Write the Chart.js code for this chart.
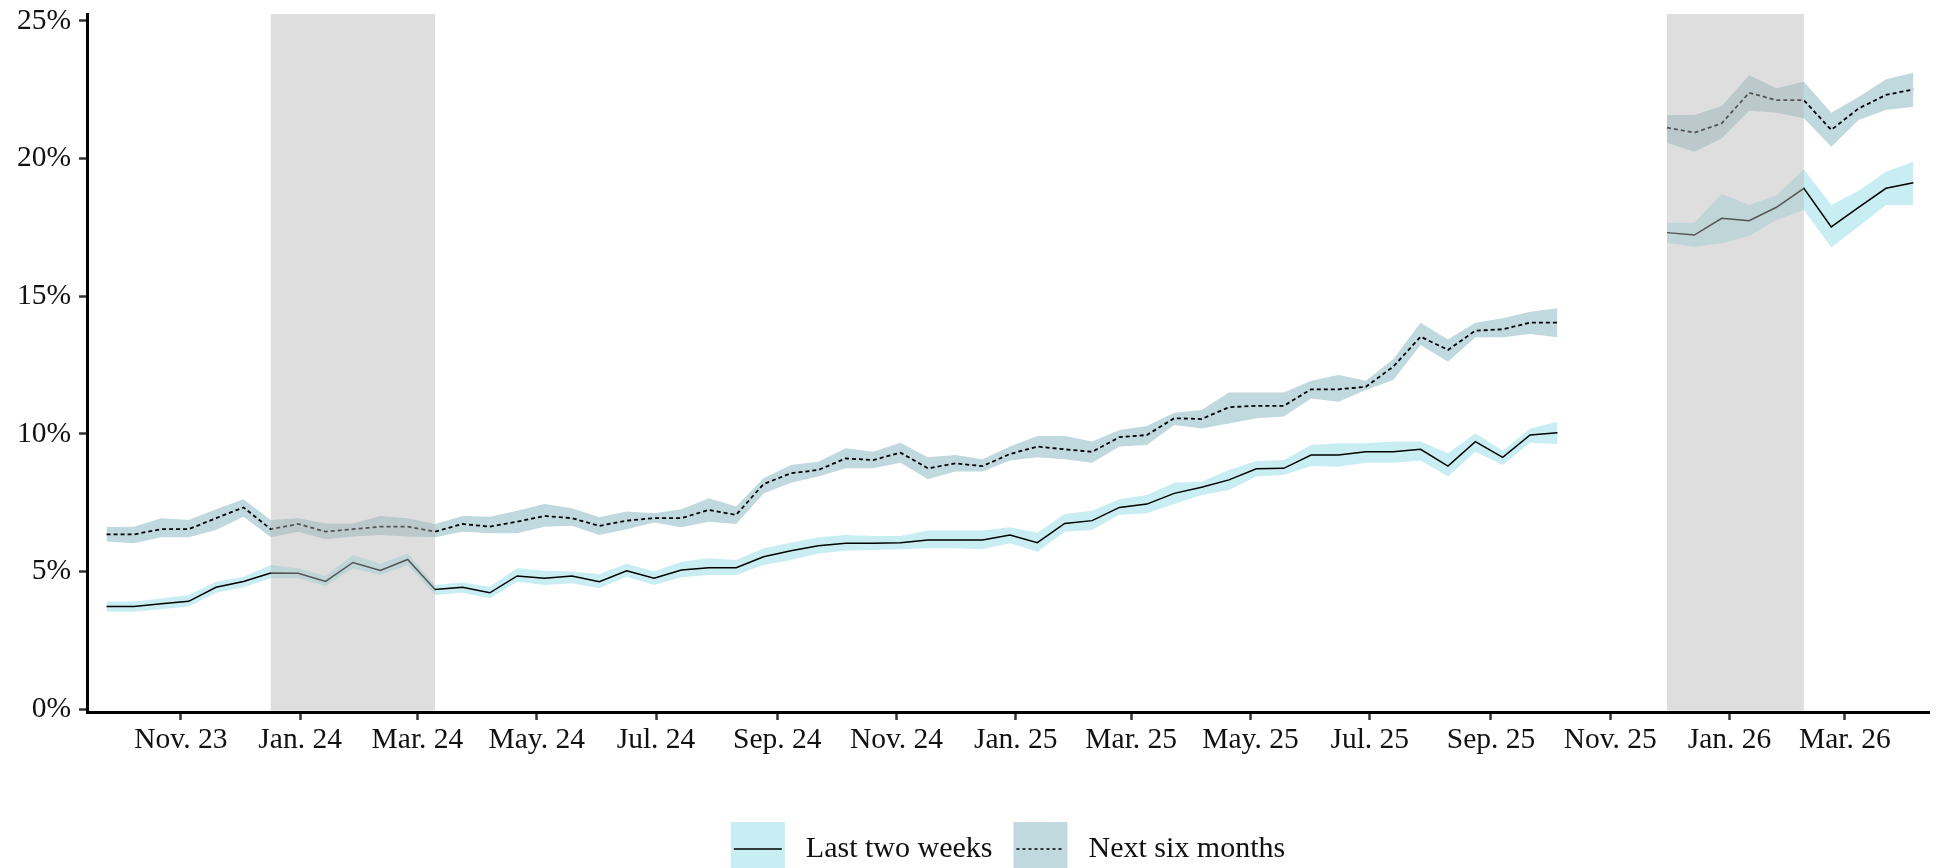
<!DOCTYPE html>
<html>
<head>
<meta charset="utf-8">
<script src="https://cdn.jsdelivr.net/npm/chart.js@4.4.1/dist/chart.umd.min.js"></script>
<style>
  html, body { margin: 0; padding: 0; background: #ffffff; }
  #wrap { width: 1950px; height: 868px; position: relative; }
</style>
</head>
<body>
<div id="wrap"><canvas id="chart" width="1950" height="868"></canvas></div>
<script>
// Fortnightly survey dates (three rounds in autumn 2025 were not run)
const surveyDates = [
  "2023-09-24","2023-10-08","2023-10-22","2023-11-05","2023-11-19","2023-12-03","2023-12-17","2023-12-31",
  "2024-01-14","2024-01-28","2024-02-11","2024-02-25","2024-03-10","2024-03-24","2024-04-07","2024-04-21",
  "2024-05-05","2024-05-19","2024-06-02","2024-06-16","2024-06-30","2024-07-14","2024-07-28","2024-08-11",
  "2024-08-25","2024-09-08","2024-09-22","2024-10-06","2024-10-20","2024-11-03","2024-11-17","2024-12-01",
  "2024-12-15","2024-12-29","2025-01-12","2025-01-26","2025-02-09","2025-02-23","2025-03-09","2025-03-23",
  "2025-04-06","2025-04-20","2025-05-04","2025-05-18","2025-06-01","2025-06-15","2025-06-29","2025-07-13",
  "2025-07-27","2025-08-10","2025-08-24","2025-09-07","2025-09-21","2025-10-05","2025-10-19","2025-11-02",
  "2025-11-16","2025-11-30","2025-12-14","2025-12-28","2026-01-11","2026-01-25","2026-02-08","2026-02-22",
  "2026-03-08","2026-03-22","2026-04-05"
];

// Share of respondents (%), "Last two weeks"
const lastTwoWeeks = [
  3.73,3.73,3.83,3.92,4.43,4.64,4.95,4.94,4.64,5.33,5.04,5.44,4.35,4.43,4.23,4.84,
  4.76,4.84,4.63,5.03,4.76,5.06,5.14,5.14,5.54,5.76,5.94,6.03,6.03,6.05,6.15,6.15,
  6.15,6.33,6.05,6.75,6.85,7.33,7.45,7.84,8.06,8.33,8.73,8.75,9.23,9.23,9.35,9.35,
  9.44,8.83,9.72,9.15,9.96,10.04,null,null,null,17.31,17.22,17.83,17.74,18.23,18.92,17.52,
  18.23,18.92,19.12
];
const lastTwoWeeksLow = [
  3.54,3.54,3.63,3.73,4.23,4.43,4.76,4.76,4.48,5.12,4.88,5.24,4.15,4.23,4.03,4.63,
  4.51,4.58,4.39,4.81,4.51,4.79,4.88,4.88,5.24,5.42,5.66,5.76,5.78,5.81,5.85,5.85,
  5.81,6.03,5.72,6.45,6.51,7.06,7.12,7.45,7.78,7.96,8.45,8.51,8.83,8.81,8.95,8.95,
  9.03,8.45,9.35,8.87,9.68,9.63,null,null,null,16.94,16.80,16.92,17.19,17.77,18.13,16.78,
  17.52,18.31,18.31
];
const lastTwoWeeksHigh = [
  3.91,3.91,4.02,4.15,4.63,4.81,5.24,5.12,4.84,5.60,5.28,5.66,4.51,4.60,4.45,5.12,
  5.03,5.00,4.91,5.28,5.00,5.36,5.48,5.42,5.85,6.05,6.25,6.33,6.29,6.29,6.49,6.49,
  6.49,6.61,6.41,7.09,7.21,7.63,7.78,8.23,8.26,8.69,9.02,9.05,9.60,9.66,9.66,9.72,
  9.72,9.30,10.02,9.39,10.20,10.44,null,null,null,17.67,17.67,18.71,18.31,18.67,19.61,18.31,
  18.83,19.52,19.88
];

// Share of respondents (%), "Next six months"
const nextSixMonths = [
  6.35,6.35,6.54,6.54,6.94,7.33,6.54,6.73,6.45,6.54,6.63,6.63,6.45,6.73,6.63,6.81,
  7.02,6.94,6.66,6.85,6.94,6.94,7.24,7.06,8.18,8.57,8.69,9.11,9.05,9.32,8.75,8.93,
  8.83,9.27,9.54,9.44,9.35,9.88,9.96,10.57,10.54,10.97,11.02,11.02,11.62,11.62,11.71,12.44,
  13.53,13.05,13.75,13.80,14.04,14.04,null,null,null,21.12,20.94,21.28,22.39,22.12,22.12,21.04,
  21.82,22.31,22.51
];
const nextSixMonthsLow = [
  6.09,6.03,6.25,6.25,6.51,6.99,6.25,6.45,6.17,6.27,6.33,6.27,6.25,6.45,6.39,6.39,
  6.63,6.66,6.33,6.54,6.78,6.61,6.81,6.73,7.84,8.23,8.45,8.75,8.75,8.95,8.35,8.63,
  8.63,9.03,9.15,9.08,8.95,9.54,9.60,10.32,10.20,10.38,10.57,10.63,11.29,11.17,11.59,11.96,
  13.23,12.62,13.51,13.51,13.63,13.51,null,null,null,20.57,20.25,20.73,21.74,21.66,21.46,20.43,
  21.40,21.76,21.88
];
const nextSixMonthsHigh = [
  6.62,6.63,6.94,6.87,7.26,7.63,6.87,6.94,6.75,6.75,7.02,6.94,6.73,7.02,6.99,7.21,
  7.45,7.30,6.97,7.18,7.12,7.26,7.66,7.36,8.39,8.87,8.99,9.48,9.35,9.68,9.15,9.23,
  9.08,9.54,9.92,9.92,9.72,10.14,10.29,10.77,10.87,11.50,11.50,11.50,11.93,12.14,11.93,12.71,
  14.04,13.43,14.04,14.20,14.44,14.56,null,null,null,21.58,21.58,21.91,23.03,22.55,22.79,21.66,
  22.24,22.88,23.12
];

// Highlighted winter periods
const shadedPeriods = [["2023-12-17", "2024-03-10"], ["2025-11-30", "2026-02-08"]];

// Axis ticks
const xTickDates = ["2023-11-01","2024-01-01","2024-03-01","2024-05-01","2024-07-01","2024-09-01","2024-11-01",
                    "2025-01-01","2025-03-01","2025-05-01","2025-07-01","2025-09-01","2025-11-01","2026-01-01","2026-03-01"];
const xTickLabels = ["Nov. 23","Jan. 24","Mar. 24","May. 24","Jul. 24","Sep. 24","Nov. 24",
                     "Jan. 25","Mar. 25","May. 25","Jul. 25","Sep. 25","Nov. 25","Jan. 26","Mar. 26"];
const yTickValues = [0, 5, 10, 15, 20, 25];
const xRange = ["2023-09-14", "2026-04-13"];
const seriesNames = ["Last two weeks", "Next six months"];

// ---- helpers ----
function toDay(s) {
  const [y, m, d] = s.split("-").map(Number);
  return Date.UTC(y, m - 1, d) / 86400000;
}
const xDays = surveyDates.map(toDay);
const xTickDays = xTickDates.map(toDay);

function points(values) {
  return values.map((v, i) => ({ x: xDays[i], y: v }));
}
// contiguous runs of non-missing observations
function runs(values) {
  const out = []; let cur = null;
  values.forEach((v, i) => {
    if (v === null) { cur = null; return; }
    if (!cur) { cur = []; out.push(cur); }
    cur.push(i);
  });
  return out;
}

const FONT = '"Liberation Serif", "Times New Roman", serif';
const bandColors = ["#c8eef3", "#bfd9de"];

const datasets = [];
// lines on top
datasets.push({
  label: seriesNames[0], data: points(lastTwoWeeks), borderColor: "#000", borderWidth: 1.5,
  pointRadius: 0, fill: false, spanGaps: false, tension: 0, order: 0
});
datasets.push({
  label: seriesNames[1], data: points(nextSixMonths), borderColor: "#000", borderWidth: 1.8,
  borderDash: [4, 3], pointRadius: 0, fill: false, spanGaps: false, tension: 0, order: 0
});
// uncertainty ribbons
[[lastTwoWeeksLow, lastTwoWeeksHigh, bandColors[0]], [nextSixMonthsLow, nextSixMonthsHigh, bandColors[1]]]
  .forEach(([lo, hi, col]) => {
    runs(lo).forEach(idx => {
      datasets.push({
        label: "band", data: idx.map(i => ({ x: xDays[i], y: hi[i] })), borderColor: "rgba(0,0,0,0)",
        borderWidth: 0, backgroundColor: col, pointRadius: 0, fill: "+1", tension: 0, order: 2
      });
      datasets.push({
        label: "band", data: idx.map(i => ({ x: xDays[i], y: lo[i] })), borderColor: "rgba(0,0,0,0)",
        borderWidth: 0, pointRadius: 0, fill: false, tension: 0, order: 2
      });
    });
  });

// grey overlay for highlighted periods
const shadePlugin = {
  id: "shade",
  afterDatasetsDraw(chart) {
    const { ctx, chartArea, scales } = chart;
    ctx.save();
    ctx.fillStyle = "rgba(184,184,184,0.46)";
    shadedPeriods.forEach(([a, b]) => {
      const x0 = scales.x.getPixelForValue(toDay(a));
      const x1 = scales.x.getPixelForValue(toDay(b));
      ctx.fillRect(x0, chartArea.top, x1 - x0, chartArea.bottom - 1.5 - chartArea.top);
    });
    ctx.restore();
  }
};

// bottom legend: filled key with line sample, then label
const legendPlugin = {
  id: "keys",
  afterDraw(chart) {
    const { ctx, chartArea } = chart;
    ctx.save();
    ctx.font = "30px " + FONT;
    const keyW = 54, keyH = 54, gap = 21;
    const w = seriesNames.map(t => ctx.measureText(t).width);
    const total = keyW + gap + w[0] + gap + keyW + gap + w[1];
    let x = (chartArea.left + chartArea.right) / 2 - total / 2;
    const top = 822, mid = 849;
    seriesNames.forEach((name, i) => {
      ctx.fillStyle = bandColors[i];
      ctx.fillRect(x, top, keyW, keyH);
      ctx.strokeStyle = "#000";
      ctx.lineWidth = 1.5;
      ctx.setLineDash(i === 0 ? [] : [3, 3]);
      ctx.beginPath();
      ctx.moveTo(x + 3, mid);
      ctx.lineTo(x + keyW - 3, mid);
      ctx.stroke();
      ctx.setLineDash([]);
      x += keyW + gap;
      ctx.fillStyle = "#111";
      ctx.textBaseline = "middle";
      ctx.textAlign = "left";
      ctx.fillText(name, x, mid);
      x += w[i] + gap;
    });
    ctx.restore();
  }
};

new Chart(document.getElementById("chart"), {
  type: "line",
  data: { datasets },
  options: {
    responsive: false,
    animation: false,
    devicePixelRatio: 1,
    layout: { padding: { top: 14, right: 21, left: 0, bottom: 0 } },
    plugins: { legend: { display: false }, tooltip: { enabled: false } },
    scales: {
      x: {
        type: "linear",
        min: toDay(xRange[0]),
        max: toDay(xRange[1]),
        afterBuildTicks: s => { s.ticks = xTickDays.map(v => ({ value: v })); },
        afterFit: s => { s.height = 156; s.paddingLeft = 0; s.paddingRight = 0; },
        ticks: {
          autoSkip: false, maxRotation: 0, padding: 3, color: "#111",
          font: { family: FONT, size: 29.5 },
          callback: (v) => xTickLabels[xTickDays.indexOf(v)]
        },
        grid: { drawOnChartArea: false, drawTicks: true, tickLength: 8, tickWidth: 2.5, tickColor: "#333" },
        border: { display: true, color: "#000", width: 3 }
      },
      y: {
        type: "linear",
        min: -0.1,
        max: 25.25,
        afterBuildTicks: s => { s.ticks = yTickValues.map(v => ({ value: v })); },
        afterFit: s => { s.width = 87; s.paddingTop = 0; s.paddingBottom = 0; },
        ticks: {
          padding: 8, color: "#111",
          font: { family: FONT, size: 29.5 },
          callback: v => v + "%"
        },
        grid: { drawOnChartArea: false, drawTicks: true, tickLength: 8, tickWidth: 2.5, tickColor: "#333" },
        border: { display: true, color: "#000", width: 3 }
      }
    }
  },
  plugins: [shadePlugin, legendPlugin]
});
</script>
</body>
</html>
